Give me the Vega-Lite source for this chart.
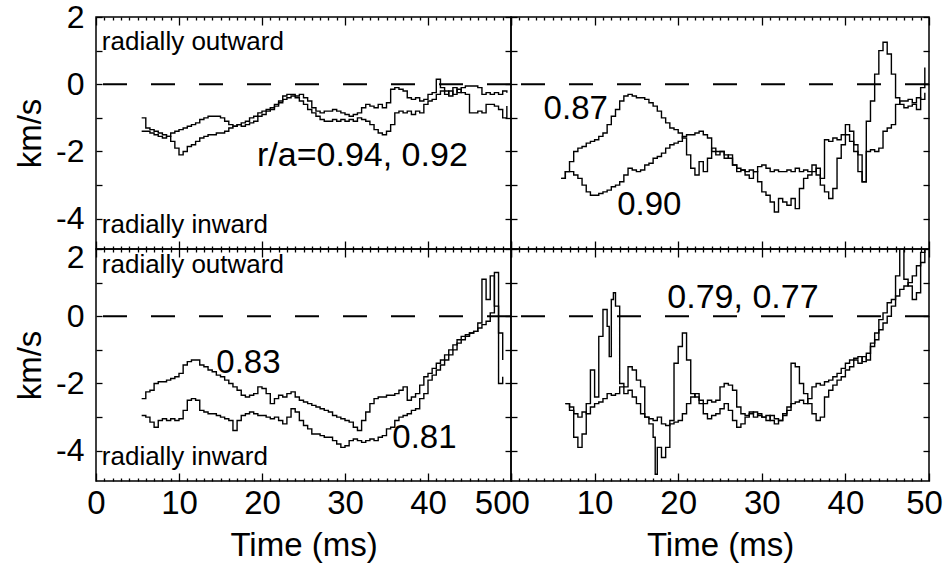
{
"$schema":"https://vega.github.io/schema/vega-lite/v6.json",
"padding":{"left":13,"top":0,"right":0,"bottom":0},
"datasets":{
"series":[
{"p":"tl","s":"a","t":5.5,"v":-1.0},{"p":"tl","s":"a","t":6,"v":-1.3},{"p":"tl","s":"a","t":6.5,"v":-1.35},{"p":"tl","s":"a","t":7,"v":-1.4},{"p":"tl","s":"a","t":7.5,"v":-1.45},{"p":"tl","s":"a","t":8,"v":-1.5},{"p":"tl","s":"a","t":8.5,"v":-1.55},{"p":"tl","s":"a","t":9,"v":-1.7},{"p":"tl","s":"a","t":9.5,"v":-1.9},{"p":"tl","s":"a","t":10,"v":-2.1},{"p":"tl","s":"a","t":10.5,"v":-2.0},{"p":"tl","s":"a","t":11,"v":-1.85},{"p":"tl","s":"a","t":11.5,"v":-1.8},{"p":"tl","s":"a","t":12,"v":-1.7},{"p":"tl","s":"a","t":12.5,"v":-1.6},{"p":"tl","s":"a","t":13,"v":-1.55},{"p":"tl","s":"a","t":13.5,"v":-1.5},{"p":"tl","s":"a","t":14,"v":-1.5},{"p":"tl","s":"a","t":14.5,"v":-1.45},{"p":"tl","s":"a","t":15,"v":-1.45},{"p":"tl","s":"a","t":15.5,"v":-1.4},{"p":"tl","s":"a","t":16,"v":-1.3},{"p":"tl","s":"a","t":16.5,"v":-1.25},{"p":"tl","s":"a","t":17,"v":-1.2},{"p":"tl","s":"a","t":17.5,"v":-1.15},{"p":"tl","s":"a","t":18,"v":-1.1},{"p":"tl","s":"a","t":18.5,"v":-1.0},{"p":"tl","s":"a","t":19,"v":-0.95},{"p":"tl","s":"a","t":19.5,"v":-0.85},{"p":"tl","s":"a","t":20,"v":-0.8},{"p":"tl","s":"a","t":20.5,"v":-0.75},{"p":"tl","s":"a","t":21,"v":-0.7},{"p":"tl","s":"a","t":21.5,"v":-0.6},{"p":"tl","s":"a","t":22,"v":-0.55},{"p":"tl","s":"a","t":22.5,"v":-0.45},{"p":"tl","s":"a","t":23,"v":-0.4},{"p":"tl","s":"a","t":23.5,"v":-0.35},{"p":"tl","s":"a","t":24,"v":-0.4},{"p":"tl","s":"a","t":24.5,"v":-0.5},{"p":"tl","s":"a","t":25,"v":-0.6},{"p":"tl","s":"a","t":25.5,"v":-0.75},{"p":"tl","s":"a","t":26,"v":-0.85},{"p":"tl","s":"a","t":26.5,"v":-0.95},{"p":"tl","s":"a","t":27,"v":-1.05},{"p":"tl","s":"a","t":27.5,"v":-1.1},{"p":"tl","s":"a","t":28,"v":-1.1},{"p":"tl","s":"a","t":28.5,"v":-1.05},{"p":"tl","s":"a","t":29,"v":-1.1},{"p":"tl","s":"a","t":29.5,"v":-1.05},{"p":"tl","s":"a","t":30,"v":-1.1},{"p":"tl","s":"a","t":30.5,"v":-1.05},{"p":"tl","s":"a","t":31,"v":-1.1},{"p":"tl","s":"a","t":31.5,"v":-1.0},{"p":"tl","s":"a","t":32,"v":-1.05},{"p":"tl","s":"a","t":32.5,"v":-1.1},{"p":"tl","s":"a","t":33,"v":-1.2},{"p":"tl","s":"a","t":33.5,"v":-1.35},{"p":"tl","s":"a","t":34,"v":-1.45},{"p":"tl","s":"a","t":34.5,"v":-1.5},{"p":"tl","s":"a","t":35,"v":-1.4},{"p":"tl","s":"a","t":35.5,"v":-1.2},{"p":"tl","s":"a","t":36,"v":-0.85},{"p":"tl","s":"a","t":36.5,"v":-0.8},{"p":"tl","s":"a","t":37,"v":-0.85},{"p":"tl","s":"a","t":37.5,"v":-0.8},{"p":"tl","s":"a","t":38,"v":-0.9},{"p":"tl","s":"a","t":38.5,"v":-0.8},{"p":"tl","s":"a","t":39,"v":-0.85},{"p":"tl","s":"a","t":39.5,"v":-0.6},{"p":"tl","s":"a","t":40,"v":-0.5},{"p":"tl","s":"a","t":40.5,"v":-0.45},{"p":"tl","s":"a","t":41,"v":-0.3},{"p":"tl","s":"a","t":41.5,"v":-0.2},{"p":"tl","s":"a","t":42,"v":-0.3},{"p":"tl","s":"a","t":42.5,"v":-0.2},{"p":"tl","s":"a","t":43,"v":-0.3},{"p":"tl","s":"a","t":43.5,"v":-0.15},{"p":"tl","s":"a","t":44,"v":-0.25},{"p":"tl","s":"a","t":44.5,"v":-0.3},{"p":"tl","s":"a","t":45,"v":-0.85},{"p":"tl","s":"a","t":45.5,"v":-0.85},{"p":"tl","s":"a","t":46,"v":-0.8},{"p":"tl","s":"a","t":46.5,"v":-0.85},{"p":"tl","s":"a","t":47,"v":-0.6},{"p":"tl","s":"a","t":47.5,"v":-0.6},{"p":"tl","s":"a","t":48,"v":-0.65},{"p":"tl","s":"a","t":48.5,"v":-0.75},{"p":"tl","s":"a","t":49,"v":-1.0},{"p":"tl","s":"a","t":49.5,"v":-0.65},
{"p":"tl","s":"b","t":5.5,"v":-1.4},{"p":"tl","s":"b","t":6,"v":-1.4},{"p":"tl","s":"b","t":6.5,"v":-1.45},{"p":"tl","s":"b","t":7,"v":-1.5},{"p":"tl","s":"b","t":7.5,"v":-1.55},{"p":"tl","s":"b","t":8,"v":-1.6},{"p":"tl","s":"b","t":8.5,"v":-1.55},{"p":"tl","s":"b","t":9,"v":-1.45},{"p":"tl","s":"b","t":9.5,"v":-1.4},{"p":"tl","s":"b","t":10,"v":-1.35},{"p":"tl","s":"b","t":10.5,"v":-1.3},{"p":"tl","s":"b","t":11,"v":-1.25},{"p":"tl","s":"b","t":11.5,"v":-1.2},{"p":"tl","s":"b","t":12,"v":-1.15},{"p":"tl","s":"b","t":12.5,"v":-1.05},{"p":"tl","s":"b","t":13,"v":-1.0},{"p":"tl","s":"b","t":13.5,"v":-0.95},{"p":"tl","s":"b","t":14,"v":-0.95},{"p":"tl","s":"b","t":14.5,"v":-0.95},{"p":"tl","s":"b","t":15,"v":-1.0},{"p":"tl","s":"b","t":15.5,"v":-1.1},{"p":"tl","s":"b","t":16,"v":-1.2},{"p":"tl","s":"b","t":16.5,"v":-1.25},{"p":"tl","s":"b","t":17,"v":-1.2},{"p":"tl","s":"b","t":17.5,"v":-1.25},{"p":"tl","s":"b","t":18,"v":-1.2},{"p":"tl","s":"b","t":18.5,"v":-1.15},{"p":"tl","s":"b","t":19,"v":-1.1},{"p":"tl","s":"b","t":19.5,"v":-0.95},{"p":"tl","s":"b","t":20,"v":-0.9},{"p":"tl","s":"b","t":20.5,"v":-0.8},{"p":"tl","s":"b","t":21,"v":-0.75},{"p":"tl","s":"b","t":21.5,"v":-0.65},{"p":"tl","s":"b","t":22,"v":-0.5},{"p":"tl","s":"b","t":22.5,"v":-0.35},{"p":"tl","s":"b","t":23,"v":-0.3},{"p":"tl","s":"b","t":23.5,"v":-0.3},{"p":"tl","s":"b","t":24,"v":-0.35},{"p":"tl","s":"b","t":24.5,"v":-0.3},{"p":"tl","s":"b","t":25,"v":-0.4},{"p":"tl","s":"b","t":25.5,"v":-0.5},{"p":"tl","s":"b","t":26,"v":-0.7},{"p":"tl","s":"b","t":26.5,"v":-0.8},{"p":"tl","s":"b","t":27,"v":-0.85},{"p":"tl","s":"b","t":27.5,"v":-0.8},{"p":"tl","s":"b","t":28,"v":-0.8},{"p":"tl","s":"b","t":28.5,"v":-0.75},{"p":"tl","s":"b","t":29,"v":-0.8},{"p":"tl","s":"b","t":29.5,"v":-0.85},{"p":"tl","s":"b","t":30,"v":-0.9},{"p":"tl","s":"b","t":30.5,"v":-0.95},{"p":"tl","s":"b","t":31,"v":-0.9},{"p":"tl","s":"b","t":31.5,"v":-0.85},{"p":"tl","s":"b","t":32,"v":-0.7},{"p":"tl","s":"b","t":32.5,"v":-0.6},{"p":"tl","s":"b","t":33,"v":-0.65},{"p":"tl","s":"b","t":33.5,"v":-0.7},{"p":"tl","s":"b","t":34,"v":-0.6},{"p":"tl","s":"b","t":34.5,"v":-0.7},{"p":"tl","s":"b","t":35,"v":-0.55},{"p":"tl","s":"b","t":35.5,"v":-0.15},{"p":"tl","s":"b","t":36,"v":-0.1},{"p":"tl","s":"b","t":36.5,"v":-0.15},{"p":"tl","s":"b","t":37,"v":-0.2},{"p":"tl","s":"b","t":37.5,"v":-0.4},{"p":"tl","s":"b","t":38,"v":-0.45},{"p":"tl","s":"b","t":38.5,"v":-0.4},{"p":"tl","s":"b","t":39,"v":-0.5},{"p":"tl","s":"b","t":39.5,"v":-0.45},{"p":"tl","s":"b","t":40,"v":-0.3},{"p":"tl","s":"b","t":40.5,"v":-0.25},{"p":"tl","s":"b","t":41,"v":0.15},{"p":"tl","s":"b","t":41.5,"v":-0.1},{"p":"tl","s":"b","t":42,"v":-0.2},{"p":"tl","s":"b","t":42.5,"v":-0.35},{"p":"tl","s":"b","t":43,"v":-0.1},{"p":"tl","s":"b","t":43.5,"v":-0.25},{"p":"tl","s":"b","t":44,"v":-0.1},{"p":"tl","s":"b","t":44.5,"v":-0.05},{"p":"tl","s":"b","t":45,"v":-0.05},{"p":"tl","s":"b","t":45.5,"v":-0.05},{"p":"tl","s":"b","t":46,"v":-0.1},{"p":"tl","s":"b","t":46.5,"v":-0.3},{"p":"tl","s":"b","t":47,"v":-0.25},{"p":"tl","s":"b","t":47.5,"v":-0.3},{"p":"tl","s":"b","t":48,"v":-0.25},{"p":"tl","s":"b","t":48.5,"v":-0.3},{"p":"tl","s":"b","t":49,"v":-0.2},{"p":"tl","s":"b","t":49.5,"v":-0.25},
{"p":"tr","s":"a","t":6,"v":-2.8},{"p":"tr","s":"a","t":6.5,"v":-2.6},{"p":"tr","s":"a","t":7,"v":-2.3},{"p":"tr","s":"a","t":7.5,"v":-2.0},{"p":"tr","s":"a","t":8,"v":-1.9},{"p":"tr","s":"a","t":8.5,"v":-1.85},{"p":"tr","s":"a","t":9,"v":-1.75},{"p":"tr","s":"a","t":9.5,"v":-1.7},{"p":"tr","s":"a","t":10,"v":-1.65},{"p":"tr","s":"a","t":10.5,"v":-1.55},{"p":"tr","s":"a","t":11,"v":-1.45},{"p":"tr","s":"a","t":11.5,"v":-1.2},{"p":"tr","s":"a","t":12,"v":-0.95},{"p":"tr","s":"a","t":12.5,"v":-0.75},{"p":"tr","s":"a","t":13,"v":-0.5},{"p":"tr","s":"a","t":13.5,"v":-0.35},{"p":"tr","s":"a","t":14,"v":-0.3},{"p":"tr","s":"a","t":14.5,"v":-0.35},{"p":"tr","s":"a","t":15,"v":-0.4},{"p":"tr","s":"a","t":15.5,"v":-0.4},{"p":"tr","s":"a","t":16,"v":-0.45},{"p":"tr","s":"a","t":16.5,"v":-0.55},{"p":"tr","s":"a","t":17,"v":-0.65},{"p":"tr","s":"a","t":17.5,"v":-0.8},{"p":"tr","s":"a","t":18,"v":-1.0},{"p":"tr","s":"a","t":18.5,"v":-1.15},{"p":"tr","s":"a","t":19,"v":-1.3},{"p":"tr","s":"a","t":19.5,"v":-1.35},{"p":"tr","s":"a","t":20,"v":-1.45},{"p":"tr","s":"a","t":20.5,"v":-1.6},{"p":"tr","s":"a","t":21,"v":-2.1},{"p":"tr","s":"a","t":21.5,"v":-2.5},{"p":"tr","s":"a","t":22,"v":-2.7},{"p":"tr","s":"a","t":22.5,"v":-2.3},{"p":"tr","s":"a","t":23,"v":-2.6},{"p":"tr","s":"a","t":23.5,"v":-2.2},{"p":"tr","s":"a","t":24,"v":-1.9},{"p":"tr","s":"a","t":24.5,"v":-2.0},{"p":"tr","s":"a","t":25,"v":-2.0},{"p":"tr","s":"a","t":25.5,"v":-2.1},{"p":"tr","s":"a","t":26,"v":-2.2},{"p":"tr","s":"a","t":26.5,"v":-2.4},{"p":"tr","s":"a","t":27,"v":-2.5},{"p":"tr","s":"a","t":27.5,"v":-2.55},{"p":"tr","s":"a","t":28,"v":-2.6},{"p":"tr","s":"a","t":28.5,"v":-2.55},{"p":"tr","s":"a","t":29,"v":-2.6},{"p":"tr","s":"a","t":29.5,"v":-2.45},{"p":"tr","s":"a","t":30,"v":-2.4},{"p":"tr","s":"a","t":30.5,"v":-2.5},{"p":"tr","s":"a","t":31,"v":-2.6},{"p":"tr","s":"a","t":31.5,"v":-2.55},{"p":"tr","s":"a","t":32,"v":-2.6},{"p":"tr","s":"a","t":32.5,"v":-2.6},{"p":"tr","s":"a","t":33,"v":-2.55},{"p":"tr","s":"a","t":33.5,"v":-2.6},{"p":"tr","s":"a","t":34,"v":-2.5},{"p":"tr","s":"a","t":34.5,"v":-2.6},{"p":"tr","s":"a","t":35,"v":-2.55},{"p":"tr","s":"a","t":35.5,"v":-2.6},{"p":"tr","s":"a","t":36,"v":-2.4},{"p":"tr","s":"a","t":36.5,"v":-2.7},{"p":"tr","s":"a","t":37,"v":-2.8},{"p":"tr","s":"a","t":37.5,"v":-1.65},{"p":"tr","s":"a","t":38,"v":-1.7},{"p":"tr","s":"a","t":38.5,"v":-1.6},{"p":"tr","s":"a","t":39,"v":-1.65},{"p":"tr","s":"a","t":39.5,"v":-1.5},{"p":"tr","s":"a","t":40,"v":-1.2},{"p":"tr","s":"a","t":40.5,"v":-1.4},{"p":"tr","s":"a","t":41,"v":-2.0},{"p":"tr","s":"a","t":41.5,"v":-2.6},{"p":"tr","s":"a","t":42,"v":-2.9},{"p":"tr","s":"a","t":42.5,"v":-1.1},{"p":"tr","s":"a","t":43,"v":-0.5},{"p":"tr","s":"a","t":43.5,"v":0.3},{"p":"tr","s":"a","t":44,"v":1.0},{"p":"tr","s":"a","t":44.5,"v":1.25},{"p":"tr","s":"a","t":45,"v":0.9},{"p":"tr","s":"a","t":45.5,"v":0.3},{"p":"tr","s":"a","t":46,"v":-0.4},{"p":"tr","s":"a","t":46.5,"v":-0.6},{"p":"tr","s":"a","t":47,"v":-0.7},{"p":"tr","s":"a","t":47.5,"v":-0.65},{"p":"tr","s":"a","t":48,"v":-0.6},{"p":"tr","s":"a","t":48.5,"v":-0.75},{"p":"tr","s":"a","t":49,"v":-0.1},{"p":"tr","s":"a","t":49.5,"v":0.5},
{"p":"tr","s":"b","t":6,"v":-2.8},{"p":"tr","s":"b","t":6.5,"v":-2.6},{"p":"tr","s":"b","t":7,"v":-2.6},{"p":"tr","s":"b","t":7.5,"v":-2.7},{"p":"tr","s":"b","t":8,"v":-2.8},{"p":"tr","s":"b","t":8.5,"v":-3.0},{"p":"tr","s":"b","t":9,"v":-3.2},{"p":"tr","s":"b","t":9.5,"v":-3.3},{"p":"tr","s":"b","t":10,"v":-3.3},{"p":"tr","s":"b","t":10.5,"v":-3.25},{"p":"tr","s":"b","t":11,"v":-3.2},{"p":"tr","s":"b","t":11.5,"v":-3.15},{"p":"tr","s":"b","t":12,"v":-3.05},{"p":"tr","s":"b","t":12.5,"v":-3.0},{"p":"tr","s":"b","t":13,"v":-2.9},{"p":"tr","s":"b","t":13.5,"v":-2.7},{"p":"tr","s":"b","t":14,"v":-2.5},{"p":"tr","s":"b","t":14.5,"v":-2.55},{"p":"tr","s":"b","t":15,"v":-2.6},{"p":"tr","s":"b","t":15.5,"v":-2.55},{"p":"tr","s":"b","t":16,"v":-2.4},{"p":"tr","s":"b","t":16.5,"v":-2.35},{"p":"tr","s":"b","t":17,"v":-2.2},{"p":"tr","s":"b","t":17.5,"v":-2.15},{"p":"tr","s":"b","t":18,"v":-2.05},{"p":"tr","s":"b","t":18.5,"v":-1.9},{"p":"tr","s":"b","t":19,"v":-1.8},{"p":"tr","s":"b","t":19.5,"v":-1.75},{"p":"tr","s":"b","t":20,"v":-1.7},{"p":"tr","s":"b","t":20.5,"v":-1.55},{"p":"tr","s":"b","t":21,"v":-1.5},{"p":"tr","s":"b","t":21.5,"v":-1.5},{"p":"tr","s":"b","t":22,"v":-1.45},{"p":"tr","s":"b","t":22.5,"v":-1.4},{"p":"tr","s":"b","t":23,"v":-1.5},{"p":"tr","s":"b","t":23.5,"v":-1.6},{"p":"tr","s":"b","t":24,"v":-2.0},{"p":"tr","s":"b","t":24.5,"v":-2.1},{"p":"tr","s":"b","t":25,"v":-2.0},{"p":"tr","s":"b","t":25.5,"v":-2.2},{"p":"tr","s":"b","t":26,"v":-2.1},{"p":"tr","s":"b","t":26.5,"v":-2.4},{"p":"tr","s":"b","t":27,"v":-2.6},{"p":"tr","s":"b","t":27.5,"v":-2.55},{"p":"tr","s":"b","t":28,"v":-2.7},{"p":"tr","s":"b","t":28.5,"v":-2.8},{"p":"tr","s":"b","t":29,"v":-2.6},{"p":"tr","s":"b","t":29.5,"v":-2.9},{"p":"tr","s":"b","t":30,"v":-3.2},{"p":"tr","s":"b","t":30.5,"v":-3.3},{"p":"tr","s":"b","t":31,"v":-3.5},{"p":"tr","s":"b","t":31.5,"v":-3.8},{"p":"tr","s":"b","t":32,"v":-3.4},{"p":"tr","s":"b","t":32.5,"v":-3.5},{"p":"tr","s":"b","t":33,"v":-3.6},{"p":"tr","s":"b","t":33.5,"v":-3.4},{"p":"tr","s":"b","t":34,"v":-3.7},{"p":"tr","s":"b","t":34.5,"v":-3.1},{"p":"tr","s":"b","t":35,"v":-2.8},{"p":"tr","s":"b","t":35.5,"v":-2.7},{"p":"tr","s":"b","t":36,"v":-2.6},{"p":"tr","s":"b","t":36.5,"v":-2.5},{"p":"tr","s":"b","t":37,"v":-3.0},{"p":"tr","s":"b","t":37.5,"v":-3.2},{"p":"tr","s":"b","t":38,"v":-3.4},{"p":"tr","s":"b","t":38.5,"v":-3.1},{"p":"tr","s":"b","t":39,"v":-2.2},{"p":"tr","s":"b","t":39.5,"v":-1.8},{"p":"tr","s":"b","t":40,"v":-1.5},{"p":"tr","s":"b","t":40.5,"v":-1.7},{"p":"tr","s":"b","t":41,"v":-1.8},{"p":"tr","s":"b","t":41.5,"v":-2.1},{"p":"tr","s":"b","t":42,"v":-2.9},{"p":"tr","s":"b","t":42.5,"v":-2.0},{"p":"tr","s":"b","t":43,"v":-1.95},{"p":"tr","s":"b","t":43.5,"v":-2.0},{"p":"tr","s":"b","t":44,"v":-1.9},{"p":"tr","s":"b","t":44.5,"v":-1.4},{"p":"tr","s":"b","t":45,"v":-1.3},{"p":"tr","s":"b","t":45.5,"v":-1.2},{"p":"tr","s":"b","t":46,"v":-0.6},{"p":"tr","s":"b","t":46.5,"v":-0.5},{"p":"tr","s":"b","t":47,"v":-0.5},{"p":"tr","s":"b","t":47.5,"v":-0.45},{"p":"tr","s":"b","t":48,"v":-0.55},{"p":"tr","s":"b","t":48.5,"v":-0.4},{"p":"tr","s":"b","t":49,"v":-0.45},{"p":"tr","s":"b","t":49.5,"v":-0.25},
{"p":"bl","s":"a","t":5.5,"v":-2.45},{"p":"bl","s":"a","t":6,"v":-2.25},{"p":"bl","s":"a","t":6.5,"v":-2.2},{"p":"bl","s":"a","t":7,"v":-2.0},{"p":"bl","s":"a","t":7.5,"v":-1.95},{"p":"bl","s":"a","t":8,"v":-1.95},{"p":"bl","s":"a","t":8.5,"v":-1.9},{"p":"bl","s":"a","t":9,"v":-1.85},{"p":"bl","s":"a","t":9.5,"v":-1.8},{"p":"bl","s":"a","t":10,"v":-1.7},{"p":"bl","s":"a","t":10.5,"v":-1.45},{"p":"bl","s":"a","t":11,"v":-1.35},{"p":"bl","s":"a","t":11.5,"v":-1.3},{"p":"bl","s":"a","t":12,"v":-1.3},{"p":"bl","s":"a","t":12.5,"v":-1.45},{"p":"bl","s":"a","t":13,"v":-1.5},{"p":"bl","s":"a","t":13.5,"v":-1.6},{"p":"bl","s":"a","t":14,"v":-1.65},{"p":"bl","s":"a","t":14.5,"v":-1.75},{"p":"bl","s":"a","t":15,"v":-1.8},{"p":"bl","s":"a","t":15.5,"v":-1.9},{"p":"bl","s":"a","t":16,"v":-2.0},{"p":"bl","s":"a","t":16.5,"v":-2.1},{"p":"bl","s":"a","t":17,"v":-2.2},{"p":"bl","s":"a","t":17.5,"v":-2.35},{"p":"bl","s":"a","t":18,"v":-2.4},{"p":"bl","s":"a","t":18.5,"v":-2.35},{"p":"bl","s":"a","t":19,"v":-2.3},{"p":"bl","s":"a","t":19.5,"v":-2.1},{"p":"bl","s":"a","t":20,"v":-2.15},{"p":"bl","s":"a","t":20.5,"v":-2.3},{"p":"bl","s":"a","t":21,"v":-2.6},{"p":"bl","s":"a","t":21.5,"v":-2.45},{"p":"bl","s":"a","t":22,"v":-2.35},{"p":"bl","s":"a","t":22.5,"v":-2.4},{"p":"bl","s":"a","t":23,"v":-2.3},{"p":"bl","s":"a","t":23.5,"v":-2.25},{"p":"bl","s":"a","t":24,"v":-2.4},{"p":"bl","s":"a","t":24.5,"v":-2.5},{"p":"bl","s":"a","t":25,"v":-2.55},{"p":"bl","s":"a","t":25.5,"v":-2.6},{"p":"bl","s":"a","t":26,"v":-2.65},{"p":"bl","s":"a","t":26.5,"v":-2.7},{"p":"bl","s":"a","t":27,"v":-2.75},{"p":"bl","s":"a","t":27.5,"v":-2.8},{"p":"bl","s":"a","t":28,"v":-2.85},{"p":"bl","s":"a","t":28.5,"v":-2.95},{"p":"bl","s":"a","t":29,"v":-3.0},{"p":"bl","s":"a","t":29.5,"v":-3.05},{"p":"bl","s":"a","t":30,"v":-3.1},{"p":"bl","s":"a","t":30.5,"v":-3.15},{"p":"bl","s":"a","t":31,"v":-3.3},{"p":"bl","s":"a","t":31.5,"v":-3.4},{"p":"bl","s":"a","t":32,"v":-3.1},{"p":"bl","s":"a","t":32.5,"v":-2.85},{"p":"bl","s":"a","t":33,"v":-2.6},{"p":"bl","s":"a","t":33.5,"v":-2.45},{"p":"bl","s":"a","t":34,"v":-2.4},{"p":"bl","s":"a","t":34.5,"v":-2.4},{"p":"bl","s":"a","t":35,"v":-2.35},{"p":"bl","s":"a","t":35.5,"v":-2.35},{"p":"bl","s":"a","t":36,"v":-2.3},{"p":"bl","s":"a","t":36.5,"v":-2.2},{"p":"bl","s":"a","t":37,"v":-2.1},{"p":"bl","s":"a","t":37.5,"v":-2.5},{"p":"bl","s":"a","t":38,"v":-2.4},{"p":"bl","s":"a","t":38.5,"v":-2.3},{"p":"bl","s":"a","t":39,"v":-2.05},{"p":"bl","s":"a","t":39.5,"v":-1.8},{"p":"bl","s":"a","t":40,"v":-1.7},{"p":"bl","s":"a","t":40.5,"v":-1.55},{"p":"bl","s":"a","t":41,"v":-1.4},{"p":"bl","s":"a","t":41.5,"v":-1.3},{"p":"bl","s":"a","t":42,"v":-1.15},{"p":"bl","s":"a","t":42.5,"v":-1.0},{"p":"bl","s":"a","t":43,"v":-0.85},{"p":"bl","s":"a","t":43.5,"v":-0.7},{"p":"bl","s":"a","t":44,"v":-0.6},{"p":"bl","s":"a","t":44.5,"v":-0.55},{"p":"bl","s":"a","t":45,"v":-0.5},{"p":"bl","s":"a","t":45.5,"v":-0.45},{"p":"bl","s":"a","t":46,"v":-0.2},{"p":"bl","s":"a","t":46.5,"v":1.1},{"p":"bl","s":"a","t":47,"v":0.5},{"p":"bl","s":"a","t":47.5,"v":1.2},{"p":"bl","s":"a","t":48,"v":0.3},{"p":"bl","s":"a","t":48.5,"v":-2.0},{"p":"bl","s":"a","t":49,"v":-1.8},
{"p":"bl","s":"b","t":5.5,"v":-2.95},{"p":"bl","s":"b","t":6,"v":-3.0},{"p":"bl","s":"b","t":6.5,"v":-3.15},{"p":"bl","s":"b","t":7,"v":-3.3},{"p":"bl","s":"b","t":7.5,"v":-3.1},{"p":"bl","s":"b","t":8,"v":-3.05},{"p":"bl","s":"b","t":8.5,"v":-3.1},{"p":"bl","s":"b","t":9,"v":-3.05},{"p":"bl","s":"b","t":9.5,"v":-3.1},{"p":"bl","s":"b","t":10,"v":-3.05},{"p":"bl","s":"b","t":10.5,"v":-2.8},{"p":"bl","s":"b","t":11,"v":-2.5},{"p":"bl","s":"b","t":11.5,"v":-2.45},{"p":"bl","s":"b","t":12,"v":-2.5},{"p":"bl","s":"b","t":12.5,"v":-2.8},{"p":"bl","s":"b","t":13,"v":-2.85},{"p":"bl","s":"b","t":13.5,"v":-2.9},{"p":"bl","s":"b","t":14,"v":-2.9},{"p":"bl","s":"b","t":14.5,"v":-2.95},{"p":"bl","s":"b","t":15,"v":-3.0},{"p":"bl","s":"b","t":15.5,"v":-3.05},{"p":"bl","s":"b","t":16,"v":-3.1},{"p":"bl","s":"b","t":16.5,"v":-3.4},{"p":"bl","s":"b","t":17,"v":-3.1},{"p":"bl","s":"b","t":17.5,"v":-2.95},{"p":"bl","s":"b","t":18,"v":-2.9},{"p":"bl","s":"b","t":18.5,"v":-2.85},{"p":"bl","s":"b","t":19,"v":-2.9},{"p":"bl","s":"b","t":19.5,"v":-2.95},{"p":"bl","s":"b","t":20,"v":-2.95},{"p":"bl","s":"b","t":20.5,"v":-3.0},{"p":"bl","s":"b","t":21,"v":-3.05},{"p":"bl","s":"b","t":21.5,"v":-3.0},{"p":"bl","s":"b","t":22,"v":-3.1},{"p":"bl","s":"b","t":22.5,"v":-3.2},{"p":"bl","s":"b","t":23,"v":-3.0},{"p":"bl","s":"b","t":23.5,"v":-2.75},{"p":"bl","s":"b","t":24,"v":-2.85},{"p":"bl","s":"b","t":24.5,"v":-3.1},{"p":"bl","s":"b","t":25,"v":-3.25},{"p":"bl","s":"b","t":25.5,"v":-3.35},{"p":"bl","s":"b","t":26,"v":-3.5},{"p":"bl","s":"b","t":26.5,"v":-3.5},{"p":"bl","s":"b","t":27,"v":-3.55},{"p":"bl","s":"b","t":27.5,"v":-3.6},{"p":"bl","s":"b","t":28,"v":-3.6},{"p":"bl","s":"b","t":28.5,"v":-3.7},{"p":"bl","s":"b","t":29,"v":-3.8},{"p":"bl","s":"b","t":29.5,"v":-3.9},{"p":"bl","s":"b","t":30,"v":-3.85},{"p":"bl","s":"b","t":30.5,"v":-3.7},{"p":"bl","s":"b","t":31,"v":-3.65},{"p":"bl","s":"b","t":31.5,"v":-3.7},{"p":"bl","s":"b","t":32,"v":-3.75},{"p":"bl","s":"b","t":32.5,"v":-3.7},{"p":"bl","s":"b","t":33,"v":-3.65},{"p":"bl","s":"b","t":33.5,"v":-3.7},{"p":"bl","s":"b","t":34,"v":-3.6},{"p":"bl","s":"b","t":34.5,"v":-3.55},{"p":"bl","s":"b","t":35,"v":-3.35},{"p":"bl","s":"b","t":35.5,"v":-3.3},{"p":"bl","s":"b","t":36,"v":-3.1},{"p":"bl","s":"b","t":36.5,"v":-3.0},{"p":"bl","s":"b","t":37,"v":-2.95},{"p":"bl","s":"b","t":37.5,"v":-2.9},{"p":"bl","s":"b","t":38,"v":-2.8},{"p":"bl","s":"b","t":38.5,"v":-2.75},{"p":"bl","s":"b","t":39,"v":-2.45},{"p":"bl","s":"b","t":39.5,"v":-2.3},{"p":"bl","s":"b","t":40,"v":-1.9},{"p":"bl","s":"b","t":40.5,"v":-1.75},{"p":"bl","s":"b","t":41,"v":-1.6},{"p":"bl","s":"b","t":41.5,"v":-1.45},{"p":"bl","s":"b","t":42,"v":-1.3},{"p":"bl","s":"b","t":42.5,"v":-1.15},{"p":"bl","s":"b","t":43,"v":-1.0},{"p":"bl","s":"b","t":43.5,"v":-0.8},{"p":"bl","s":"b","t":44,"v":-0.7},{"p":"bl","s":"b","t":44.5,"v":-0.6},{"p":"bl","s":"b","t":45,"v":-0.5},{"p":"bl","s":"b","t":45.5,"v":-0.45},{"p":"bl","s":"b","t":46,"v":-0.35},{"p":"bl","s":"b","t":46.5,"v":-0.25},{"p":"bl","s":"b","t":47,"v":-0.15},{"p":"bl","s":"b","t":47.5,"v":0.1},{"p":"bl","s":"b","t":48,"v":1.3},{"p":"bl","s":"b","t":48.5,"v":-0.5},{"p":"bl","s":"b","t":49,"v":-1.3},
{"p":"br","s":"a","t":6.5,"v":-2.6},{"p":"br","s":"a","t":7,"v":-2.7},{"p":"br","s":"a","t":7.5,"v":-3.6},{"p":"br","s":"a","t":8,"v":-3.9},{"p":"br","s":"a","t":8.5,"v":-3.5},{"p":"br","s":"a","t":9,"v":-2.6},{"p":"br","s":"a","t":9.5,"v":-1.6},{"p":"br","s":"a","t":10,"v":-2.4},{"p":"br","s":"a","t":10.5,"v":-0.6},{"p":"br","s":"a","t":11,"v":0.2},{"p":"br","s":"a","t":11.5,"v":-0.3},{"p":"br","s":"a","t":11.75,"v":-1.2},{"p":"br","s":"a","t":12,"v":0.5},{"p":"br","s":"a","t":12.25,"v":0.7},{"p":"br","s":"a","t":12.5,"v":0.3},{"p":"br","s":"a","t":13,"v":-2.0},{"p":"br","s":"a","t":13.5,"v":-2.1},{"p":"br","s":"a","t":14,"v":-1.5},{"p":"br","s":"a","t":14.5,"v":-1.6},{"p":"br","s":"a","t":15,"v":-1.9},{"p":"br","s":"a","t":15.5,"v":-2.1},{"p":"br","s":"a","t":16,"v":-3.0},{"p":"br","s":"a","t":16.5,"v":-3.2},{"p":"br","s":"a","t":17,"v":-3.6},{"p":"br","s":"a","t":17.25,"v":-4.7},{"p":"br","s":"a","t":17.5,"v":-3.9},{"p":"br","s":"a","t":18,"v":-4.2},{"p":"br","s":"a","t":18.5,"v":-3.9},{"p":"br","s":"a","t":19,"v":-3.1},{"p":"br","s":"a","t":19.5,"v":-1.4},{"p":"br","s":"a","t":20,"v":-0.9},{"p":"br","s":"a","t":20.5,"v":-0.5},{"p":"br","s":"a","t":21,"v":-1.3},{"p":"br","s":"a","t":21.5,"v":-2.3},{"p":"br","s":"a","t":22,"v":-2.4},{"p":"br","s":"a","t":22.5,"v":-2.5},{"p":"br","s":"a","t":23,"v":-2.6},{"p":"br","s":"a","t":23.5,"v":-2.5},{"p":"br","s":"a","t":24,"v":-2.55},{"p":"br","s":"a","t":24.5,"v":-2.5},{"p":"br","s":"a","t":25,"v":-2.1},{"p":"br","s":"a","t":25.5,"v":-2.0},{"p":"br","s":"a","t":26,"v":-2.05},{"p":"br","s":"a","t":26.5,"v":-2.2},{"p":"br","s":"a","t":27,"v":-2.7},{"p":"br","s":"a","t":27.5,"v":-2.9},{"p":"br","s":"a","t":28,"v":-2.95},{"p":"br","s":"a","t":28.5,"v":-2.85},{"p":"br","s":"a","t":29,"v":-3.0},{"p":"br","s":"a","t":29.5,"v":-2.9},{"p":"br","s":"a","t":30,"v":-3.0},{"p":"br","s":"a","t":30.5,"v":-3.1},{"p":"br","s":"a","t":31,"v":-2.95},{"p":"br","s":"a","t":31.5,"v":-3.05},{"p":"br","s":"a","t":32,"v":-3.1},{"p":"br","s":"a","t":32.5,"v":-2.9},{"p":"br","s":"a","t":33,"v":-2.7},{"p":"br","s":"a","t":33.5,"v":-1.4},{"p":"br","s":"a","t":34,"v":-1.5},{"p":"br","s":"a","t":34.5,"v":-2.0},{"p":"br","s":"a","t":35,"v":-2.3},{"p":"br","s":"a","t":35.5,"v":-2.6},{"p":"br","s":"a","t":36,"v":-2.9},{"p":"br","s":"a","t":36.5,"v":-3.1},{"p":"br","s":"a","t":37,"v":-3.0},{"p":"br","s":"a","t":37.5,"v":-2.4},{"p":"br","s":"a","t":38,"v":-2.2},{"p":"br","s":"a","t":38.5,"v":-2.05},{"p":"br","s":"a","t":39,"v":-1.9},{"p":"br","s":"a","t":39.5,"v":-1.8},{"p":"br","s":"a","t":40,"v":-1.6},{"p":"br","s":"a","t":40.5,"v":-1.5},{"p":"br","s":"a","t":41,"v":-1.3},{"p":"br","s":"a","t":41.5,"v":-1.4},{"p":"br","s":"a","t":42,"v":-1.2},{"p":"br","s":"a","t":42.5,"v":-1.3},{"p":"br","s":"a","t":43,"v":-0.8},{"p":"br","s":"a","t":43.5,"v":-0.5},{"p":"br","s":"a","t":44,"v":-0.1},{"p":"br","s":"a","t":44.5,"v":0.1},{"p":"br","s":"a","t":45,"v":0.4},{"p":"br","s":"a","t":45.5,"v":0.5},{"p":"br","s":"a","t":46,"v":1.2},{"p":"br","s":"a","t":46.5,"v":2.1},{"p":"br","s":"a","t":47,"v":1.1},{"p":"br","s":"a","t":47.5,"v":0.9},{"p":"br","s":"a","t":48,"v":0.5},{"p":"br","s":"a","t":48.5,"v":0.7},{"p":"br","s":"a","t":49,"v":1.6},{"p":"br","s":"a","t":49.5,"v":2.2},
{"p":"br","s":"b","t":6.5,"v":-2.6},{"p":"br","s":"b","t":7,"v":-2.8},{"p":"br","s":"b","t":7.5,"v":-2.9},{"p":"br","s":"b","t":8,"v":-3.0},{"p":"br","s":"b","t":8.5,"v":-2.85},{"p":"br","s":"b","t":9,"v":-2.9},{"p":"br","s":"b","t":9.5,"v":-2.7},{"p":"br","s":"b","t":10,"v":-2.6},{"p":"br","s":"b","t":10.5,"v":-2.55},{"p":"br","s":"b","t":11,"v":-2.45},{"p":"br","s":"b","t":11.5,"v":-2.3},{"p":"br","s":"b","t":12,"v":-2.35},{"p":"br","s":"b","t":12.5,"v":-2.3},{"p":"br","s":"b","t":13,"v":-2.1},{"p":"br","s":"b","t":13.5,"v":-2.3},{"p":"br","s":"b","t":14,"v":-2.2},{"p":"br","s":"b","t":14.5,"v":-2.4},{"p":"br","s":"b","t":15,"v":-2.6},{"p":"br","s":"b","t":15.5,"v":-2.9},{"p":"br","s":"b","t":16,"v":-3.0},{"p":"br","s":"b","t":16.5,"v":-3.05},{"p":"br","s":"b","t":17,"v":-3.1},{"p":"br","s":"b","t":17.5,"v":-3.0},{"p":"br","s":"b","t":18,"v":-3.2},{"p":"br","s":"b","t":18.5,"v":-3.25},{"p":"br","s":"b","t":19,"v":-3.2},{"p":"br","s":"b","t":19.5,"v":-3.15},{"p":"br","s":"b","t":20,"v":-3.1},{"p":"br","s":"b","t":20.5,"v":-2.9},{"p":"br","s":"b","t":21,"v":-2.6},{"p":"br","s":"b","t":21.5,"v":-2.4},{"p":"br","s":"b","t":22,"v":-2.3},{"p":"br","s":"b","t":22.5,"v":-2.6},{"p":"br","s":"b","t":23,"v":-2.9},{"p":"br","s":"b","t":23.5,"v":-3.05},{"p":"br","s":"b","t":24,"v":-2.95},{"p":"br","s":"b","t":24.5,"v":-2.9},{"p":"br","s":"b","t":25,"v":-2.75},{"p":"br","s":"b","t":25.5,"v":-2.6},{"p":"br","s":"b","t":26,"v":-2.8},{"p":"br","s":"b","t":26.5,"v":-3.1},{"p":"br","s":"b","t":27,"v":-3.3},{"p":"br","s":"b","t":27.5,"v":-3.2},{"p":"br","s":"b","t":28,"v":-3.0},{"p":"br","s":"b","t":28.5,"v":-2.9},{"p":"br","s":"b","t":29,"v":-2.85},{"p":"br","s":"b","t":29.5,"v":-2.95},{"p":"br","s":"b","t":30,"v":-3.0},{"p":"br","s":"b","t":30.5,"v":-2.95},{"p":"br","s":"b","t":31,"v":-3.1},{"p":"br","s":"b","t":31.5,"v":-3.2},{"p":"br","s":"b","t":32,"v":-3.1},{"p":"br","s":"b","t":32.5,"v":-2.95},{"p":"br","s":"b","t":33,"v":-2.8},{"p":"br","s":"b","t":33.5,"v":-2.6},{"p":"br","s":"b","t":34,"v":-2.55},{"p":"br","s":"b","t":34.5,"v":-2.5},{"p":"br","s":"b","t":35,"v":-2.6},{"p":"br","s":"b","t":35.5,"v":-2.45},{"p":"br","s":"b","t":36,"v":-2.1},{"p":"br","s":"b","t":36.5,"v":-2.0},{"p":"br","s":"b","t":37,"v":-2.05},{"p":"br","s":"b","t":37.5,"v":-1.95},{"p":"br","s":"b","t":38,"v":-1.9},{"p":"br","s":"b","t":38.5,"v":-1.8},{"p":"br","s":"b","t":39,"v":-1.7},{"p":"br","s":"b","t":39.5,"v":-1.55},{"p":"br","s":"b","t":40,"v":-1.4},{"p":"br","s":"b","t":40.5,"v":-1.3},{"p":"br","s":"b","t":41,"v":-1.25},{"p":"br","s":"b","t":41.5,"v":-1.2},{"p":"br","s":"b","t":42,"v":-1.35},{"p":"br","s":"b","t":42.5,"v":-1.1},{"p":"br","s":"b","t":43,"v":-0.9},{"p":"br","s":"b","t":43.5,"v":-0.7},{"p":"br","s":"b","t":44,"v":-0.4},{"p":"br","s":"b","t":44.5,"v":-0.2},{"p":"br","s":"b","t":45,"v":0.0},{"p":"br","s":"b","t":45.5,"v":0.3},{"p":"br","s":"b","t":46,"v":0.6},{"p":"br","s":"b","t":46.5,"v":0.8},{"p":"br","s":"b","t":47,"v":0.9},{"p":"br","s":"b","t":47.5,"v":1.0},{"p":"br","s":"b","t":48,"v":1.2},{"p":"br","s":"b","t":48.5,"v":1.5},{"p":"br","s":"b","t":49,"v":1.9},{"p":"br","s":"b","t":49.5,"v":2.2}
],
"notes":[
{"p":"tl","k":"side","t":0.7,"v":1.26,"label":"radially outward"},
{"p":"tl","k":"side","t":0.7,"v":-4.18,"label":"radially inward"},
{"p":"tl","k":"num","t":19.4,"v":-2.12,"label":"r/a=0.94, 0.92"},
{"p":"tr","k":"num","t":3.9,"v":-0.74,"label":"0.87"},
{"p":"tr","k":"num","t":12.7,"v":-3.59,"label":"0.90"},
{"p":"bl","k":"side","t":0.7,"v":1.53,"label":"radially outward"},
{"p":"bl","k":"side","t":0.7,"v":-4.18,"label":"radially inward"},
{"p":"bl","k":"num","t":14.5,"v":-1.38,"label":"0.83"},
{"p":"bl","k":"num","t":35.7,"v":-3.62,"label":"0.81"},
{"p":"br","k":"num","t":18.7,"v":0.53,"label":"0.79, 0.77"}
],
"zero":[{"z":0}]
},
"columns":2,
"bounds":"flush",
"spacing":0,
"concat":[
{"width":415,"height":232,
 "layer":[
  {"data":{"name":"series"},"transform":[{"filter":"datum.p=='tl' && datum.s=='a'"}],
   "mark":{"type":"line","interpolate":"step-after","color":"black","strokeWidth":1.4,"clip":true},
   "encoding":{"x":{"field":"t","type":"quantitative","scale":{"domain":[0,50]},"axis":{"orient":"bottom","values":[0,10,20,30,40,50],"tickSize":-8,"labels":false,"title":null}},
               "y":{"field":"v","type":"quantitative","scale":{"domain":[-4.9,2]},"axis":{"orient":"left","values":[-4,-3,-2,-1,0,1,2],"tickSize":-6,"labelExpr":"datum.value % 2 == 0 ? '' + datum.value : ''","labelFontSize":32,"labelPadding":18,"title":"km/s","titleFontSize":33,"titlePadding":8}}}},
  {"data":{"name":"series"},"transform":[{"filter":"datum.p=='tl' && datum.s=='b'"}],
   "mark":{"type":"line","interpolate":"step-after","color":"black","strokeWidth":1.4,"clip":true},
   "encoding":{"x":{"field":"t","type":"quantitative","scale":{"domain":[0,50]},"axis":{"orient":"top","values":[0,10,20,30,40,50],"tickSize":-8,"labels":false,"title":null}},
               "y":{"field":"v","type":"quantitative","scale":{"domain":[-4.9,2]},"axis":{"orient":"right","values":[-4,-3,-2,-1,0,1,2],"tickSize":-6,"labels":false,"title":null}}}},
  {"data":{"name":"notes"},"transform":[{"filter":"datum.p=='tl' && datum.k=='side'"}],
   "mark":{"type":"text","align":"left","baseline":"middle","fontSize":26,"font":"Liberation Sans","color":"black"},
   "encoding":{"x":{"field":"t","type":"quantitative","scale":{"domain":[0,50]},"axis":{"orient":"bottom","values":[1,2,3,4,5,6,7,8,9,11,12,13,14,15,16,17,18,19,21,22,23,24,25,26,27,28,29,31,32,33,34,35,36,37,38,39,41,42,43,44,45,46,47,48,49],"tickSize":-3,"labels":false,"title":null}},
               "y":{"field":"v","type":"quantitative","scale":{"domain":[-4.9,2]},"axis":null},"text":{"field":"label"}}},
  {"data":{"name":"notes"},"transform":[{"filter":"datum.p=='tl' && datum.k=='num'"}],
   "mark":{"type":"text","align":"left","baseline":"middle","fontSize":34,"font":"Liberation Sans","color":"black"},
   "encoding":{"x":{"field":"t","type":"quantitative","scale":{"domain":[0,50]},"axis":{"orient":"top","values":[1,2,3,4,5,6,7,8,9,11,12,13,14,15,16,17,18,19,21,22,23,24,25,26,27,28,29,31,32,33,34,35,36,37,38,39,41,42,43,44,45,46,47,48,49],"tickSize":-3,"labels":false,"title":null}},
               "y":{"field":"v","type":"quantitative","scale":{"domain":[-4.9,2]},"axis":null},"text":{"field":"label"}}},
  {"data":{"name":"zero"},
   "mark":{"type":"rule","strokeDash":[24,24],"strokeWidth":2,"color":"black"},
   "encoding":{"y":{"field":"z","type":"quantitative","scale":{"domain":[-4.9,2]},"axis":null}}}
 ],
 "resolve":{"axis":{"x":"independent","y":"independent"}}
},
{"width":418,"height":232,
 "layer":[
  {"data":{"name":"series"},"transform":[{"filter":"datum.p=='tr' && datum.s=='a'"}],
   "mark":{"type":"line","interpolate":"step-after","color":"black","strokeWidth":1.4,"clip":true},
   "encoding":{"x":{"field":"t","type":"quantitative","scale":{"domain":[0,50]},"axis":{"orient":"bottom","values":[0,10,20,30,40,50],"tickSize":-8,"labels":false,"title":null}},
               "y":{"field":"v","type":"quantitative","scale":{"domain":[-4.9,2]},"axis":{"orient":"left","values":[-4,-3,-2,-1,0,1,2],"tickSize":-6,"labels":false,"title":null}}}},
  {"data":{"name":"series"},"transform":[{"filter":"datum.p=='tr' && datum.s=='b'"}],
   "mark":{"type":"line","interpolate":"step-after","color":"black","strokeWidth":1.4,"clip":true},
   "encoding":{"x":{"field":"t","type":"quantitative","scale":{"domain":[0,50]},"axis":{"orient":"top","values":[0,10,20,30,40,50],"tickSize":-8,"labels":false,"title":null}},
               "y":{"field":"v","type":"quantitative","scale":{"domain":[-4.9,2]},"axis":{"orient":"right","values":[-4,-3,-2,-1,0,1,2],"tickSize":-6,"labels":false,"title":null}}}},
  {"data":{"name":"notes"},"transform":[{"filter":"datum.p=='tr' && datum.k=='side'"}],
   "mark":{"type":"text","align":"left","baseline":"middle","fontSize":26,"font":"Liberation Sans","color":"black"},
   "encoding":{"x":{"field":"t","type":"quantitative","scale":{"domain":[0,50]},"axis":{"orient":"bottom","values":[1,2,3,4,5,6,7,8,9,11,12,13,14,15,16,17,18,19,21,22,23,24,25,26,27,28,29,31,32,33,34,35,36,37,38,39,41,42,43,44,45,46,47,48,49],"tickSize":-3,"labels":false,"title":null}},
               "y":{"field":"v","type":"quantitative","scale":{"domain":[-4.9,2]},"axis":null},"text":{"field":"label"}}},
  {"data":{"name":"notes"},"transform":[{"filter":"datum.p=='tr' && datum.k=='num'"}],
   "mark":{"type":"text","align":"left","baseline":"middle","fontSize":33,"font":"Liberation Sans","color":"black"},
   "encoding":{"x":{"field":"t","type":"quantitative","scale":{"domain":[0,50]},"axis":{"orient":"top","values":[1,2,3,4,5,6,7,8,9,11,12,13,14,15,16,17,18,19,21,22,23,24,25,26,27,28,29,31,32,33,34,35,36,37,38,39,41,42,43,44,45,46,47,48,49],"tickSize":-3,"labels":false,"title":null}},
               "y":{"field":"v","type":"quantitative","scale":{"domain":[-4.9,2]},"axis":null},"text":{"field":"label"}}},
  {"data":{"name":"zero"},
   "mark":{"type":"rule","strokeDash":[24,24],"strokeWidth":2,"color":"black"},
   "encoding":{"y":{"field":"z","type":"quantitative","scale":{"domain":[-4.9,2]},"axis":null}}}
 ],
 "resolve":{"axis":{"x":"independent","y":"independent"}}
},
{"width":415,"height":232,
 "layer":[
  {"data":{"name":"series"},"transform":[{"filter":"datum.p=='bl' && datum.s=='a'"}],
   "mark":{"type":"line","interpolate":"step-after","color":"black","strokeWidth":1.4,"clip":true},
   "encoding":{"x":{"field":"t","type":"quantitative","scale":{"domain":[0,50]},"axis":{"orient":"bottom","values":[0,10,20,30,40,50],"tickSize":-8,"labels":true,"labelFontSize":33,"labelPadding":14,"labelAlign":{"condition":{"test":"datum.value == 50","value":"right"},"value":"center"},"title":"Time (ms)","titleFontSize":33,"titlePadding":9}},
               "y":{"field":"v","type":"quantitative","scale":{"domain":[-4.9,2]},"axis":{"orient":"left","values":[-4,-3,-2,-1,0,1,2],"tickSize":-6,"labelExpr":"datum.value % 2 == 0 ? '' + datum.value : ''","labelFontSize":32,"labelPadding":18,"labelOffset":{"condition":{"test":"datum.value == 2","value":8},"value":0},"title":"km/s","titleFontSize":33,"titlePadding":8}}}},
  {"data":{"name":"series"},"transform":[{"filter":"datum.p=='bl' && datum.s=='b'"}],
   "mark":{"type":"line","interpolate":"step-after","color":"black","strokeWidth":1.4,"clip":true},
   "encoding":{"x":{"field":"t","type":"quantitative","scale":{"domain":[0,50]},"axis":{"orient":"top","values":[0,10,20,30,40,50],"tickSize":-8,"labels":false,"title":null}},
               "y":{"field":"v","type":"quantitative","scale":{"domain":[-4.9,2]},"axis":{"orient":"right","values":[-4,-3,-2,-1,0,1,2],"tickSize":-6,"labels":false,"title":null}}}},
  {"data":{"name":"notes"},"transform":[{"filter":"datum.p=='bl' && datum.k=='side'"}],
   "mark":{"type":"text","align":"left","baseline":"middle","fontSize":26,"font":"Liberation Sans","color":"black"},
   "encoding":{"x":{"field":"t","type":"quantitative","scale":{"domain":[0,50]},"axis":{"orient":"bottom","values":[1,2,3,4,5,6,7,8,9,11,12,13,14,15,16,17,18,19,21,22,23,24,25,26,27,28,29,31,32,33,34,35,36,37,38,39,41,42,43,44,45,46,47,48,49],"tickSize":-3,"labels":false,"title":null}},
               "y":{"field":"v","type":"quantitative","scale":{"domain":[-4.9,2]},"axis":null},"text":{"field":"label"}}},
  {"data":{"name":"notes"},"transform":[{"filter":"datum.p=='bl' && datum.k=='num'"}],
   "mark":{"type":"text","align":"left","baseline":"middle","fontSize":33,"font":"Liberation Sans","color":"black"},
   "encoding":{"x":{"field":"t","type":"quantitative","scale":{"domain":[0,50]},"axis":{"orient":"top","values":[1,2,3,4,5,6,7,8,9,11,12,13,14,15,16,17,18,19,21,22,23,24,25,26,27,28,29,31,32,33,34,35,36,37,38,39,41,42,43,44,45,46,47,48,49],"tickSize":-3,"labels":false,"title":null}},
               "y":{"field":"v","type":"quantitative","scale":{"domain":[-4.9,2]},"axis":null},"text":{"field":"label"}}},
  {"data":{"name":"zero"},
   "mark":{"type":"rule","strokeDash":[24,24],"strokeWidth":2,"color":"black"},
   "encoding":{"y":{"field":"z","type":"quantitative","scale":{"domain":[-4.9,2]},"axis":null}}}
 ],
 "resolve":{"axis":{"x":"independent","y":"independent"}}
},
{"width":418,"height":232,
 "layer":[
  {"data":{"name":"series"},"transform":[{"filter":"datum.p=='br' && datum.s=='a'"}],
   "mark":{"type":"line","interpolate":"step-after","color":"black","strokeWidth":1.4,"clip":true},
   "encoding":{"x":{"field":"t","type":"quantitative","scale":{"domain":[0,50]},"axis":{"orient":"bottom","values":[0,10,20,30,40,50],"tickSize":-8,"labels":true,"labelFontSize":33,"labelPadding":14,"labelAlign":{"condition":{"test":"datum.value == 0","value":"left"},"value":"center"},"labelOffset":{"condition":{"test":"datum.value == 50","value":-5},"value":0},"title":"Time (ms)","titleFontSize":33,"titlePadding":9}},
               "y":{"field":"v","type":"quantitative","scale":{"domain":[-4.9,2]},"axis":{"orient":"left","values":[-4,-3,-2,-1,0,1,2],"tickSize":-6,"labels":false,"title":null}}}},
  {"data":{"name":"series"},"transform":[{"filter":"datum.p=='br' && datum.s=='b'"}],
   "mark":{"type":"line","interpolate":"step-after","color":"black","strokeWidth":1.4,"clip":true},
   "encoding":{"x":{"field":"t","type":"quantitative","scale":{"domain":[0,50]},"axis":{"orient":"top","values":[0,10,20,30,40,50],"tickSize":-8,"labels":false,"title":null}},
               "y":{"field":"v","type":"quantitative","scale":{"domain":[-4.9,2]},"axis":{"orient":"right","values":[-4,-3,-2,-1,0,1,2],"tickSize":-6,"labels":false,"title":null}}}},
  {"data":{"name":"notes"},"transform":[{"filter":"datum.p=='br' && datum.k=='side'"}],
   "mark":{"type":"text","align":"left","baseline":"middle","fontSize":26,"font":"Liberation Sans","color":"black"},
   "encoding":{"x":{"field":"t","type":"quantitative","scale":{"domain":[0,50]},"axis":{"orient":"bottom","values":[1,2,3,4,5,6,7,8,9,11,12,13,14,15,16,17,18,19,21,22,23,24,25,26,27,28,29,31,32,33,34,35,36,37,38,39,41,42,43,44,45,46,47,48,49],"tickSize":-3,"labels":false,"title":null}},
               "y":{"field":"v","type":"quantitative","scale":{"domain":[-4.9,2]},"axis":null},"text":{"field":"label"}}},
  {"data":{"name":"notes"},"transform":[{"filter":"datum.p=='br' && datum.k=='num'"}],
   "mark":{"type":"text","align":"left","baseline":"middle","fontSize":34,"font":"Liberation Sans","color":"black"},
   "encoding":{"x":{"field":"t","type":"quantitative","scale":{"domain":[0,50]},"axis":{"orient":"top","values":[1,2,3,4,5,6,7,8,9,11,12,13,14,15,16,17,18,19,21,22,23,24,25,26,27,28,29,31,32,33,34,35,36,37,38,39,41,42,43,44,45,46,47,48,49],"tickSize":-3,"labels":false,"title":null}},
               "y":{"field":"v","type":"quantitative","scale":{"domain":[-4.9,2]},"axis":null},"text":{"field":"label"}}},
  {"data":{"name":"zero"},
   "mark":{"type":"rule","strokeDash":[24,24],"strokeWidth":2,"color":"black"},
   "encoding":{"y":{"field":"z","type":"quantitative","scale":{"domain":[-4.9,2]},"axis":null}}}
 ],
 "resolve":{"axis":{"x":"independent","y":"independent"}}
}
],
"config":{
 "font":"Liberation Sans",
 "view":{"stroke":"black","strokeWidth":1.5},
 "axis":{"domain":false,"grid":false,"tickColor":"black","tickWidth":1.3,"labelFont":"Liberation Sans","labelColor":"black","titleFont":"Liberation Sans","titleColor":"black","titleFontWeight":"normal","labelFlush":false,"labelOverlap":false,"labelBound":false}
}
}
